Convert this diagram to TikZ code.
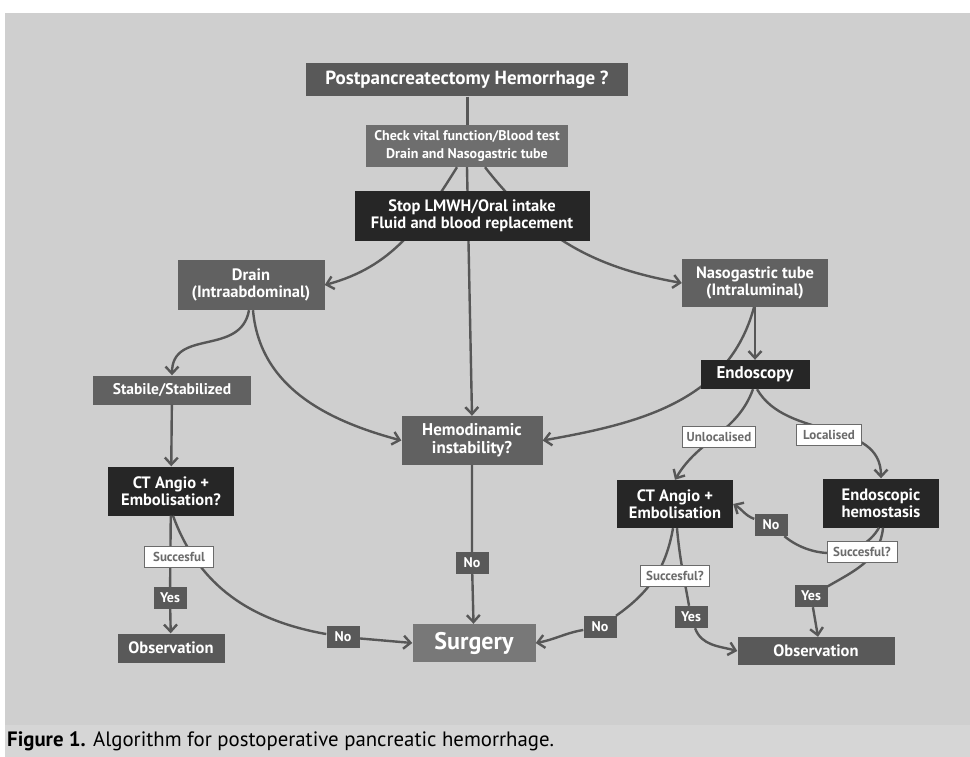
\documentclass[tikz,border=0pt]{standalone}
\usepackage{fontspec}
\setmainfont{PT Sans}
\usetikzlibrary{arrows.meta}

\definecolor{panelgray}{gray}{0.81}
\definecolor{bandgray}{gray}{0.84}
\definecolor{topgray}{gray}{0.35}
\definecolor{midgray}{gray}{0.38}
\definecolor{lightgray}{gray}{0.43}
\definecolor{surggray}{gray}{0.47}
\definecolor{darkgray}{gray}{0.15}
\definecolor{taggray}{gray}{0.35}
\definecolor{notegray}{gray}{0.42}
\definecolor{linegray}{gray}{0.34}

\begin{document}
\begin{tikzpicture}[x=1pt, y=1pt, >={Straight Barb[length=7pt,width=13pt]},
    greybox/.style={fill=midgray, text=white, align=center, inner sep=0pt,
      font=\bfseries\fontsize{16.5}{17.5}\selectfont},
    blackbox/.style={greybox, fill=darkgray},
    tag/.style={fill=taggray, text=white, inner sep=0pt, minimum width=33pt,
      minimum height=22pt, font=\bfseries\fontsize{14}{16}\selectfont},
    note/.style={fill=white, draw=notegray, line width=0.8pt, text=notegray,
      inner sep=0pt, minimum height=21pt, font=\bfseries\fontsize{13}{15}\selectfont},
    flow/.style={draw=linegray, line width=2.4pt, ->}]

    % background and caption band
    \useasboundingbox (0,0) rectangle (970,-757);
    \fill[white] (0,0) rectangle (970,-757);
    \fill[panelgray] (5,-13) rectangle (970,-725);
    \fill[bandgray] (5,-725) rectangle (970,-757);

    % draw boxes
    \node[greybox, fill=topgray, minimum width=322pt, minimum height=33pt,
      font=\bfseries\fontsize{19}{22}\selectfont] (hem) at (467,-80) {Postpancreatectomy Hemorrhage ?};
    \node[greybox, fill=lightgray, minimum width=202pt, minimum height=42pt,
      font=\bfseries\fontsize{14}{18}\selectfont] (check) at (467,-146) {Check vital function/Blood test\\Drain and Nasogastric tube};
    \node[greybox, minimum width=147pt, minimum height=50pt] (drain) at (251,-285) {Drain\\(Intraabdominal)};
    \node[greybox, minimum width=146pt, minimum height=48pt] (naso) at (755,-283) {Nasogastric tube\\(Intraluminal)};
    \node[greybox, minimum width=141pt, minimum height=49pt,
      font=\bfseries\fontsize{17}{18}\selectfont] (hemo) at (472,-440.5) {Hemodinamic\\instability?};
    \node[greybox, minimum width=158pt, minimum height=29pt,
      font=\bfseries\fontsize{15.5}{17}\selectfont] (stab) at (172,-390) {Stabile/Stabilized};
    \node[blackbox, minimum width=126pt, minimum height=49pt] (ctl) at (171,-491) {CT Angio +\\Embolisation?};
    \node[greybox, fill=topgray, minimum width=107pt, minimum height=29pt] (obsl) at (171,-648) {Observation};
    \node[greybox, fill=surggray, minimum width=123pt, minimum height=38pt,
      font=\bfseries\fontsize{24}{26}\selectfont] (surg) at (474,-643) {Surgery};
    \node[blackbox, minimum width=116pt, minimum height=48pt] (ctr) at (675,-504) {CT Angio +\\Embolisation};
    \node[blackbox, minimum width=116pt, minimum height=49pt] (endoh) at (881,-503) {Endoscopic\\hemostasis};
    \node[greybox, fill=topgray, minimum width=157pt, minimum height=28pt] (obsr) at (816,-651) {Observation};

    % draw yes/no tags
    \foreach \name/\word/\x/\y in {no0/No/472/-563, no1/No/343/-637, no2/No/600/-627,
        no3/No/771/-525, yes1/Yes/170/-598, yes2/Yes/691/-617, yes3/Yes/811/-596}
      \node[tag] (\name) at (\x,\y) {\word};

    % lines that run behind the black boxes
    \draw[flow, -, line width=3pt] (hem) -- (check);
    \draw[flow] ([xshift=-10pt]check.south) to[out=-122,in=15] (drain.east);
    \draw[flow] (check.south) -- (hemo.north);
    \draw[flow] ([xshift=18pt]check.south) to[out=-52,in=170] (naso.west);
    \draw[flow] ([xshift=-1pt]naso.south) to[out=-105,in=10] (hemo.east);

    \node[blackbox, minimum width=235pt, minimum height=49pt] (stop) at (472,-216)
      {Stop LMWH/Oral intake\\Fluid and blood replacement};
    \node[blackbox, minimum width=109pt, minimum height=29pt,
      font=\bfseries\fontsize{17}{18}\selectfont] (endo) at (755,-374.5) {Endoscopy};

    % draw connectors
    \draw[flow] (naso.south) -- (endo.north);
    \draw[flow] ([xshift=-2pt]drain.south) to[out=-100,in=90,looseness=1.2] (stab.north);
    \draw[flow] ([xshift=2pt]drain.south) to[out=-85,in=165] (hemo.west);
    \draw[flow] (stab) -- (ctl);
    \draw[flow] (ctl) -- (yes1) -- (obsl);
    \draw[flow] ([xshift=2pt]ctl.south) to[out=-70,in=170] (no1) -- (surg.west);
    \draw[flow] (hemo) -- (no0) -- (surg);
    \draw[flow] ([xshift=-2pt]endo.south) to[out=-110,in=60] (ctr.north);
    \draw[flow] ([xshift=2pt]endo.south) to[out=-60,in=90] (endoh.north);
    \draw[flow] ([xshift=-2pt]ctr.south) to[out=-100,in=35] (no2) to[out=190,in=10] (surg.east);
    \draw[flow] ([xshift=2pt]ctr.south) to[out=-85,in=100] (yes2) to[out=-70,in=165] (obsr.west);
    \draw[flow] ([xshift=-2pt]endoh.south) to[out=-120,in=-40] (no3) to[out=160,in=-30] (ctr.east);
    \draw[flow] ([xshift=2pt]endoh.south) to[out=-95,in=30] (yes3) -- ([xshift=2pt]obsr.north);

    % draw notes on top of the lines
    \foreach \name/\word/\x/\y/\w in {succl/Succesful/179/-557/69, succr/Succesful?/675/-575.5/69,
        succe/Succesful?/862/-552/70, unloc/Unlocalised/719/-437/73, loc/Localised/829/-435/65}
      \node[note, minimum width=\w pt] (\name) at (\x,\y) {\word};

    % caption
    \node[anchor=west, font=\fontsize{20.8}{22}\selectfont, inner sep=0pt] (cap) at (7,-741)
      {\textbf{Figure 1.} Algorithm for postoperative pancreatic hemorrhage.};
\end{tikzpicture}
\end{document}
